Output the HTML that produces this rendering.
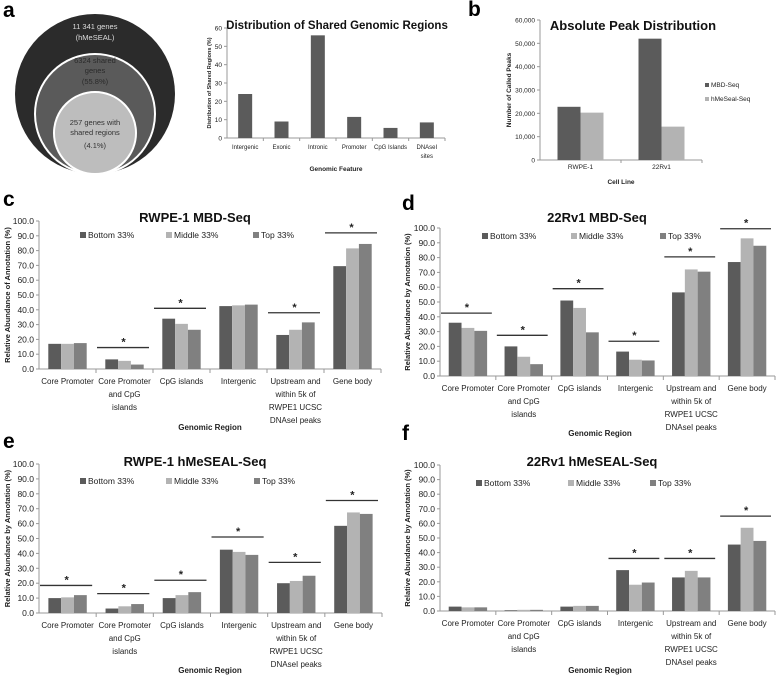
<!DOCTYPE html>
<html><head><meta charset="utf-8"><style>
html,body{margin:0;padding:0;background:#fff;}
svg{display:block;font-family:"Liberation Sans",sans-serif;}
</style></head><body>
<svg id="fig" width="783" height="675" viewBox="0 0 783 675" xmlns="http://www.w3.org/2000/svg">
<g font-weight="bold" font-size="21" fill="#000">
<text x="3" y="17">a</text>
<text x="468" y="16">b</text>
<text x="3" y="206">c</text>
<text x="402" y="210">d</text>
<text x="3" y="448">e</text>
<text x="402" y="440">f</text>
</g>
<g font-size="7.5" text-anchor="middle">
<circle cx="95" cy="94" r="80" fill="#2b2b2b"/>
<circle cx="95" cy="114" r="60" fill="#5a5a5a" stroke="#fff" stroke-width="2"/>
<circle cx="95" cy="133" r="41" fill="#bdbdbd" stroke="#fff" stroke-width="2"/>
<text x="95" y="29" fill="#ddd">11 341 genes</text>
<text x="95" y="40" fill="#ddd">(hMeSEAL)</text>
<text x="95" y="63" fill="#2a2a2a">6324 shared</text>
<text x="95" y="73" fill="#2a2a2a">genes</text>
<text x="95" y="84" fill="#2a2a2a">(55.8%)</text>
<text x="95" y="125" fill="#333">257 genes with</text>
<text x="95" y="135" fill="#333">shared regions</text>
<text x="95" y="148" fill="#333">(4.1%)</text>
</g>
</svg>
<script>
// Panel a bar chart
const aCats = ["Intergenic","Exonic","Intronic","Promoter","CpG Islands","DNAseI|sites"];
const aVals = [24,9,56,11.5,5.5,8.5];
const aTicks = [0,10,20,30,40,50,60];
// Panel b
const bCats = ["RWPE-1","22Rv1"];
const bMBD = [22800,52000];
const bHme = [20300,14300];
const bTicks = [0,10000,20000,30000,40000,50000,60000];
const bTickLabels = ["0","10,000","20,000","30,000","40,000","50,000","60,000"];
// Panels c-f
const regionCats = ["Core Promoter","Core Promoter|and CpG|islands","CpG islands","Intergenic","Upstream and|within 5k of|RWPE1 UCSC|DNAseI peaks","Gene body"];
const pctTicks = [0,10,20,30,40,50,60,70,80,90,100];
const cBottom = [17,6.5,34,42.5,23,69.5];
const cMiddle = [17,5.5,30.5,43,26.5,81.5];
const cTop = [17.5,3,26.5,43.5,31.5,84.5];
const cSig = [null,14.5,41,null,38,92];
const dBottom = [36,20,51,16.5,56.5,77];
const dMiddle = [32.5,13,46,11,72,93];
const dTop = [30.5,8,29.5,10.5,70.5,88];
const dSig = [42.5,27.5,59,23.5,80.5,99.5];
const eBottom = [10,3,10,42.5,20,58.5];
const eMiddle = [10.5,4.5,12,41,21.5,67.5];
const eTop = [12,6,14,39,25,66.5];
const eSig = [18.5,13,22,51,34,75.5];
const fBottom = [3,0.5,3,28,23,45.5];
const fMiddle = [2.5,0.8,3.5,18,27.5,57];
const fTop = [2.5,0.8,3.5,19.5,23,48];
const fSig = [null,null,null,36,36,65];

const NS="http://www.w3.org/2000/svg";
const svg=document.getElementById('fig');
function mk(tag,attrs,parent,txt){const e=document.createElementNS(NS,tag);for(const k in attrs)e.setAttribute(k,attrs[k]);if(txt!==undefined)e.textContent=txt;(parent||svg).appendChild(e);return e;}
function grp(name){const g=mk('g',{});return g;}
function multiText(g,x,y,str,fs,lh,name){const lines=str.split('|');lines.forEach((l,i)=>{const t=mk('text',{x:x,y:y+i*lh,'font-size':fs,'text-anchor':'middle',fill:'#222'},g,l);});}

const DARK="#5b5b5b", LIGHT="#b3b3b3", MID="#808080";

// ---- panel a chart
(function(){
 const g=grp('shared-regions-chart');
 const x0=227,x1=445,y0=138,y1=28,ymax=60;
 const ys=v=>y0-(v/ymax)*(y0-y1);
 const cw=(x1-x0)/aCats.length;
 let t=mk('text',{x:337,y:29,'font-size':11.5,'font-weight':'bold','text-anchor':'middle',fill:'#111'},g,'Distribution of Shared Genomic Regions');
 
 mk('line',{x1:x0,y1:y0,x2:x1,y2:y0,stroke:'#999'},g);
 mk('line',{x1:x0,y1:y0,x2:x0,y2:y1,stroke:'#999'},g);
 aTicks.forEach(v=>{mk('line',{x1:x0-3,y1:ys(v),x2:x0,y2:ys(v),stroke:'#999'},g);
  const tt=mk('text',{x:x0-5,y:ys(v)+2.5,'font-size':6.5,'text-anchor':'end',fill:'#222'},g,String(v));
  });
 aCats.forEach((c,i)=>{
  const cx=x0+cw*(i+.5);
  const r=mk('rect',{x:cx-7,y:ys(aVals[i]),width:14,height:y0-ys(aVals[i]),fill:DARK},g);
  
  
  mk('line',{x1:x0+cw*(i+1),y1:y0,x2:x0+cw*(i+1),y2:y0+3,stroke:'#999'},g);
  multiText(g,cx,y0+11,c,6,9,'x-tick-label');
 });
 t=mk('text',{x:336,y:171,'font-size':6.5,'font-weight':'bold','text-anchor':'middle',fill:'#222'},g,'Genomic Feature');
 
 t=mk('text',{x:0,y:0,'font-size':5.5,'font-weight':'bold','text-anchor':'middle',fill:'#222',transform:'translate(211,83) rotate(-90)'},g,'Distribution of Shared Regions (%)');
 
})();

// ---- panel b
(function(){
 const g=grp('absolute-peak-chart');
 const x0=540,x1=702,y0=160,y1=20,ymax=60000;
 const ys=v=>y0-(v/ymax)*(y0-y1);
 const cw=(x1-x0)/bCats.length;
 let t=mk('text',{x:633,y:30,'font-size':13,'font-weight':'bold','text-anchor':'middle',fill:'#111'},g,'Absolute Peak Distribution');
 
 mk('line',{x1:x0,y1:y0,x2:x1,y2:y0,stroke:'#999'},g);
 mk('line',{x1:x0,y1:y0,x2:x0,y2:y1,stroke:'#999'},g);
 bTicks.forEach((v,i)=>{mk('line',{x1:x0-3,y1:ys(v),x2:x0,y2:ys(v),stroke:'#999'},g);
  const tt=mk('text',{x:x0-5,y:ys(v)+2.5,'font-size':6.5,'text-anchor':'end',fill:'#222'},g,bTickLabels[i]);
  });
 bCats.forEach((c,i)=>{
  const cx=x0+cw*(i+.5);
  let r=mk('rect',{x:cx-23,y:ys(bMBD[i]),width:23,height:y0-ys(bMBD[i]),fill:DARK},g);
  
  r=mk('rect',{x:cx,y:ys(bHme[i]),width:23,height:y0-ys(bHme[i]),fill:LIGHT},g);
  
  mk('line',{x1:x0+cw*(i+1),y1:y0,x2:x0+cw*(i+1),y2:y0+3,stroke:'#999'},g);
  multiText(g,cx,y0+9,c,6.5,9,'x-tick-label');
 });
 t=mk('text',{x:621,y:184,'font-size':6.5,'font-weight':'bold','text-anchor':'middle',fill:'#222'},g,'Cell Line');
 
 t=mk('text',{x:0,y:0,'font-size':6.5,'font-weight':'bold','text-anchor':'middle',fill:'#222',transform:'translate(511,90) rotate(-90)'},g,'Number of Called Peaks');
 
 const lg=grp('legend');g.appendChild(lg);
 mk('rect',{x:705,y:83,width:4,height:4,fill:DARK},lg);
 t=mk('text',{x:711,y:87,'font-size':6.5,fill:'#222'},lg,'MBD-Seq');
 mk('rect',{x:705,y:97,width:4,height:4,fill:LIGHT},lg);
 t=mk('text',{x:711,y:101,'font-size':6.5,fill:'#222'},lg,'hMeSeal-Seq');
})();

// ---- panels c-f
function regionChart(o){
 const g=grp(o.name);
 const {x0,x1,y0,y100}=o;
 const ys=v=>y0-(v/100)*(y0-y100);
 const cw=(x1-x0)/regionCats.length;
 let t=mk('text',{x:o.tx,y:o.ty,'font-size':13,'font-weight':'bold','text-anchor':'middle',fill:'#111'},g,o.title);
 
 mk('line',{x1:x0,y1:y0,x2:x1,y2:y0,stroke:'#999'},g);
 mk('line',{x1:x0,y1:y0,x2:x0,y2:y100,stroke:'#999'},g);
 pctTicks.forEach(v=>{mk('line',{x1:x0-3,y1:ys(v),x2:x0,y2:ys(v),stroke:'#999'},g);
  const tt=mk('text',{x:x0-5,y:ys(v)+3,'font-size':8.5,'text-anchor':'end',fill:'#222'},g,v.toFixed(1));
  });
 const series=[[o.b,DARK,'bottom'],[o.m,LIGHT,'middle'],[o.t,MID,'top']];
 const bw=12.8;
 regionCats.forEach((c,i)=>{
  const cx=x0+cw*(i+.5);
  series.forEach((s,j)=>{
   const v=s[0][i];
   const r=mk('rect',{x:cx-1.5*bw+j*bw,y:ys(v),width:bw,height:y0-ys(v),fill:s[1]},g);
   
   
  });
  if(o.sig[i]!==null){
   const sl=mk('line',{x1:x0+cw*i+1,y1:ys(o.sig[i]),x2:x0+cw*(i+1)-4,y2:ys(o.sig[i]),stroke:'#333','stroke-width':1.3},g);
   
   const st=mk('text',{x:x0+cw*(i+.5)-1,y:ys(o.sig[i])-2,'font-size':11,'font-weight':'bold','text-anchor':'middle',fill:'#222'},g,'*');
   
  }
  mk('line',{x1:x0+cw*(i+1),y1:y0,x2:x0+cw*(i+1),y2:y0+4,stroke:'#999'},g);
  multiText(g,cx,y0+15,c,8,13,'x-tick-label');
 });
 t=mk('text',{x:o.xtx,y:o.xty,'font-size':8,'font-weight':'bold','text-anchor':'middle',fill:'#222'},g,'Genomic Region');
 
 t=mk('text',{x:0,y:0,'font-size':7.5,'font-weight':'bold','text-anchor':'middle',fill:'#222',transform:'translate('+o.ytx+','+((y0+y100)/2)+') rotate(-90)'},g,o.ytitle);
 
 const names=['Bottom 33%','Middle 33%','Top 33%'];
 const lg=grp('legend');g.appendChild(lg);
 series.forEach((s,j)=>{
  mk('rect',{x:o.lx[j],y:o.ly-6,width:6,height:6,fill:s[1]},lg);
  const lt=mk('text',{x:o.lx[j]+8,y:o.ly,'font-size':8.5,fill:'#222'},lg,names[j]);
  
 });
}
regionChart({name:'rwpe1-mbd-chart',title:'RWPE-1 MBD-Seq',tx:195,ty:222,x0:39,x1:381,y0:369,y100:221,b:cBottom,m:cMiddle,t:cTop,sig:cSig,xtx:210,xty:430,ytx:10,ytitle:'Relative Abundance of Annotation (%)',lx:[80,166,253],ly:238});
regionChart({name:'22rv1-mbd-chart',title:'22Rv1 MBD-Seq',tx:597,ty:222,x0:440,x1:775,y0:376,y100:228,b:dBottom,m:dMiddle,t:dTop,sig:dSig,xtx:600,xty:436,ytx:410,ytitle:'Relative Abundance  by Annotation (%)',lx:[482,571,660],ly:239});
regionChart({name:'rwpe1-hmeseal-chart',title:'RWPE-1 hMeSEAL-Seq',tx:195,ty:466,x0:39,x1:382,y0:613,y100:464,b:eBottom,m:eMiddle,t:eTop,sig:eSig,xtx:210,xty:673,ytx:10,ytitle:'Relative Abundance  by Annotation (%)',lx:[80,166,254],ly:484});
regionChart({name:'22rv1-hmeseal-chart',title:'22Rv1 hMeSEAL-Seq',tx:592,ty:466,x0:440,x1:775,y0:611,y100:465,b:fBottom,m:fMiddle,t:fTop,sig:fSig,xtx:600,xty:673,ytx:410,ytitle:'Relative Abundance  by Annotation (%)',lx:[476,568,650],ly:486});
</script>
</body></html>
